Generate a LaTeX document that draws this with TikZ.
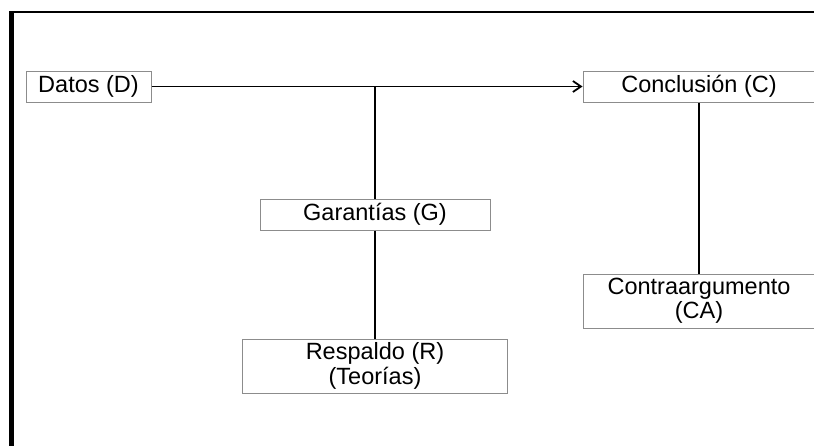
\documentclass[tikz,border=0pt]{standalone}
\usepackage{fontspec}
\setmainfont{Liberation Sans}
\usetikzlibrary{arrows.meta, positioning}
\tikzset{>={Straight Barb[width=5.5pt,length=4pt]}}
\tikzset{box/.style={draw=black!45, line width=0.5pt, align=center, inner sep=0pt,
    font=\fontsize{11.75}{10.5}\selectfont}}

\begin{document}
\begin{tikzpicture}[x=0.5pt, y=-0.5pt, on grid]
			\useasboundingbox (0,0) rectangle (814,445);
			% frame
			\draw[line width=2.25pt] (11.5,450) -- (11.5,10.5);
			\draw[line width=1.25pt] (9.25,12) -- (820,12);
			\node (datos) [box, minimum width=62.5pt, minimum height=15.5pt] at (88.5,86.5) {Datos (D)};
			\node (concl) [box, minimum width=116pt, minimum height=15.5pt] at (699,86.5) {Conclusión (C)};
			\node (garant) [box, minimum width=115pt, minimum height=15.5pt] at (375,214.5) {Garantías (G)};
			\node (resp) [box, below = 75.75pt of garant, minimum width=132.5pt, minimum height=27pt] {Respaldo (R)\\(Teorías)};
			\node (contra) [box, below = 107.25pt of concl, minimum width=116pt, minimum height=27pt] {Contraargumento\\(CA)};
			\path[line width=0.9pt]
			(datos) edge[->] (concl)
			(garant) edge (resp)
			(concl) edge (contra);
			\draw[line width=0.9pt] (garant.north) -- (garant.north |- datos.east);
\end{tikzpicture}
\end{document}
